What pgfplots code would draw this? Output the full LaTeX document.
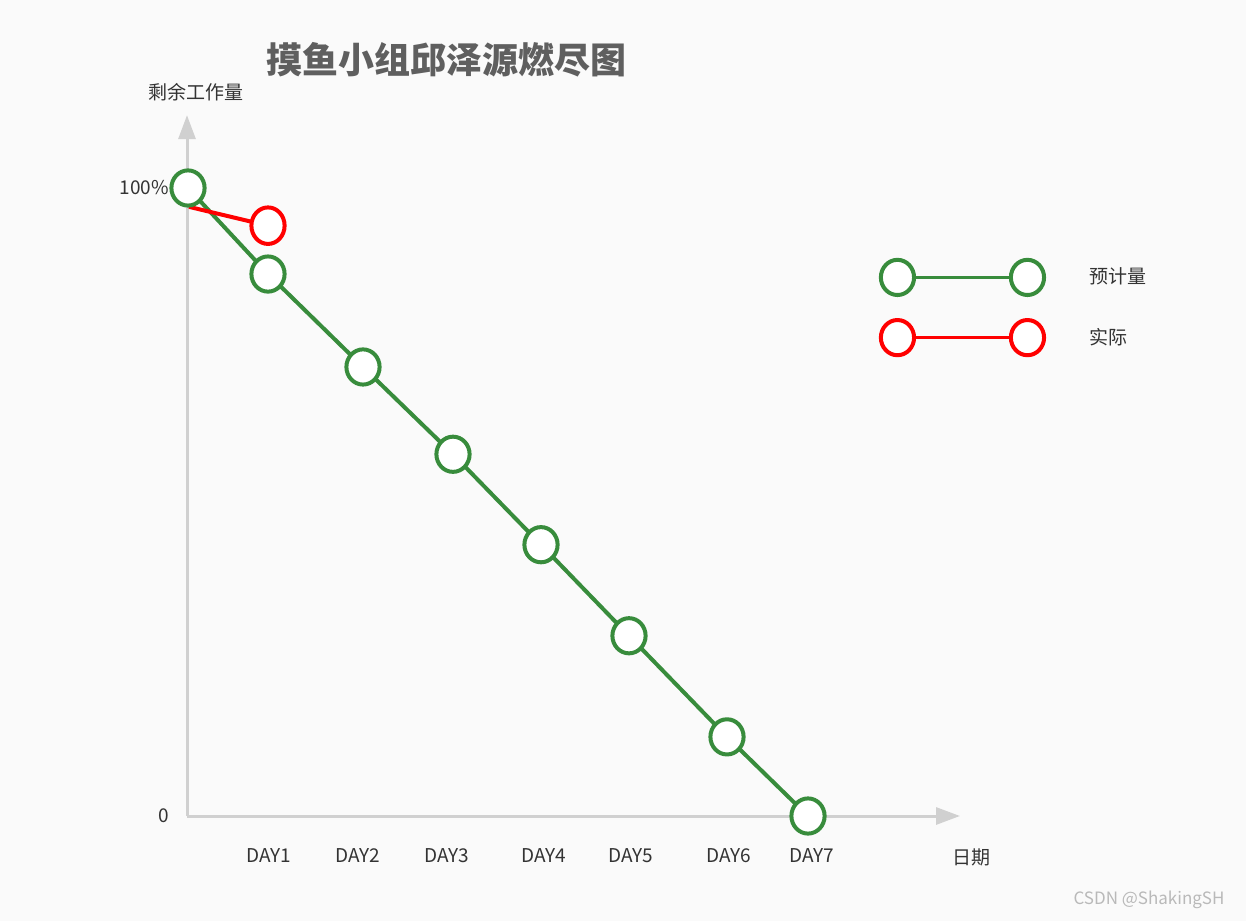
\documentclass[border=0pt]{standalone}
\usepackage{fontspec}
\setmainfont{Noto Sans CJK SC}
\usepackage{pgfplots}
\pgfplotsset{compat=1.18}
\usetikzlibrary{arrows.meta}

\definecolor{bggray}{RGB}{250,250,250}
\definecolor{axgray}{RGB}{208,208,208}
\definecolor{plangreen}{RGB}{56,140,60}
\definecolor{titlegray}{RGB}{95,95,95}
\definecolor{txt}{RGB}{51,51,51}
\definecolor{wm}{RGB}{185,185,185}

\begin{document}
\begin{tikzpicture}
% canvas: 1px = 0.5pt, origin at the axis corner
\fill[bggray] (-93.5pt,-52.5pt) rectangle (529.5pt,408pt);
\useasboundingbox (-93.5pt,-52.5pt) rectangle (529.5pt,408pt);
\begin{axis}[
  at={(0,0)}, anchor=south west,
  x=0.5pt, y=3.14pt,
  xmin=0, xmax=773, ymin=0, ymax=111.6,
  axis lines=left,
  axis line style={draw=axgray, line width=1.5pt, -{Triangle[width=8.5pt,length=12pt]}},
  major tick length=0pt,
  tick style={draw=none},
  clip=false,
  xtick={82,171,260,357,444,542,625},
  xticklabels={DAY1,DAY2,DAY3,DAY4,DAY5,DAY6,DAY7},
  ytick={0,100},
  yticklabels={0,100\%},
  tick label style={font=\fontsize{9.5}{11}\selectfont, text=txt, inner sep=0pt},
  xticklabel style={anchor=center, yshift=-20pt},
  yticklabel style={anchor=east, xshift=-9pt},
  legend cell align=left,
  legend style={draw=none, fill=none, at={(0.894,0.797)}, anchor=north west,
    inner sep=0pt, row sep=10.5pt, font=\fontsize{9.5}{11}\selectfont, text=txt,
    nodes={inner sep=0pt}},
]
\addplot[plangreen, line width=2pt, mark=*, mark size=8.3pt,
  mark options={fill=white, draw=plangreen, line width=2pt, yscale=1.06},
  legend image code/.code={
    \path[draw=none, fill=none] (-9.5pt,-9.5pt) rectangle (96pt,9.5pt);
    \draw[plangreen, line width=1.2pt] (0pt,0pt) -- (65pt,0pt);
    \draw[plangreen, line width=2pt, fill=white] (0pt,0pt) ellipse (8.3pt and 8.8pt);
    \draw[plangreen, line width=2pt, fill=white] (65pt,0pt) ellipse (8.3pt and 8.8pt);
  }]
  coordinates {(1,100) (81,86.3) (176,71.5) (266,57.6) (354,43.2) (442,28.7) (540,12.6) (621,0)};
\addlegendentry{预计量}
\addplot[red, line width=2pt, mark=*, mark size=8.3pt, mark indices={2},
  mark options={fill=white, draw=red, line width=2pt, yscale=1.1},
  legend image code/.code={
    \path[draw=none, fill=none] (-9.5pt,-9.5pt) rectangle (96pt,9.5pt);
    \draw[red, line width=1.2pt] (0pt,0pt) -- (65pt,0pt);
    \draw[red, line width=2pt, fill=white] (0pt,0pt) ellipse (8.3pt and 8.8pt);
    \draw[red, line width=2pt, fill=white] (65pt,0pt) ellipse (8.3pt and 8.8pt);
  }]
  coordinates {(2,97) (81,94)};
\addlegendentry{实际}
\end{axis}
\node[text=titlegray, font=\fontsize{18}{20}\selectfont\bfseries] at (129.5pt,378pt) {摸鱼小组邱泽源燃尽图};
\node[text=txt, font=\fontsize{9.5}{11}\selectfont] at (4.5pt,362pt) {剩余工作量};
\node[text=txt, font=\fontsize{9.5}{11}\selectfont] at (392pt,-20.5pt) {日期};
\node[text=wm, font=\fontsize{8.5}{10}\selectfont] at (481pt,-42pt) {CSDN @ShakingSH};
\end{tikzpicture}
\end{document}
